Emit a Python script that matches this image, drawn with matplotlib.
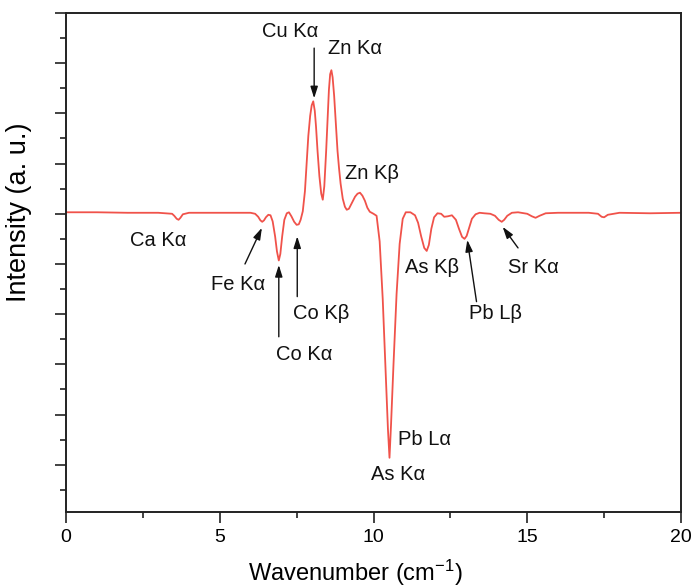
import matplotlib
matplotlib.use("Agg")
import matplotlib.pyplot as plt
from matplotlib.ticker import MultipleLocator

plt.rcParams['font.family'] = ['Liberation Sans', 'DejaVu Sans']
plt.rcParams['mathtext.fontset'] = 'custom'
plt.rcParams['mathtext.rm'] = 'Liberation Sans'
plt.rcParams['mathtext.it'] = 'Liberation Sans:italic'

# Spectrum trace (wavenumber, intensity in arbitrary units)
wavenumber = [
    0.0, 1.0, 2.0, 3.0, 3.45, 3.52, 3.6, 3.66, 3.72, 3.8, 4.0, 5.0, 6.0, 6.15,
    6.25, 6.32, 6.38, 6.44, 6.5, 6.58, 6.65, 6.72, 6.8, 6.86, 6.92, 6.97,
    7.03, 7.1, 7.18, 7.25, 7.33, 7.42, 7.5, 7.57, 7.63, 7.7, 7.77, 7.83,
    7.88, 7.94, 7.99, 8.04, 8.09, 8.13, 8.18, 8.24, 8.3, 8.35, 8.4, 8.46,
    8.51, 8.55, 8.59, 8.63, 8.67, 8.72, 8.78, 8.83, 8.88, 8.93, 9.0, 9.07,
    9.13, 9.2, 9.3, 9.4, 9.48, 9.56, 9.64, 9.72, 9.8, 9.88, 10.0, 10.1,
    10.2, 10.3, 10.4, 10.47, 10.52, 10.57, 10.65, 10.75, 10.85, 10.95,
    11.05, 11.2, 11.35, 11.45, 11.55, 11.65, 11.73, 11.8, 11.88, 11.97,
    12.08, 12.2, 12.3, 12.42, 12.55, 12.68, 12.78, 12.88, 12.96, 13.03,
    13.1, 13.2, 13.32, 13.45, 13.6, 13.8, 13.95, 14.07, 14.17, 14.25,
    14.35, 14.5, 14.7, 15.0, 15.15, 15.27, 15.4, 15.6, 16.0, 16.5, 17.0,
    17.3, 17.42, 17.5, 17.62, 18.0, 19.0, 20.0,
]
intensity = [
    0.03, 0.03, 0.02, 0.02, 0.0, -0.04, -0.10, -0.12, -0.08, -0.01, 0.02, 0.02, 0.02, 0.0,
    -0.06, -0.13, -0.16, -0.13, -0.07, -0.02, -0.03, -0.15, -0.45, -0.75, -0.93, -0.8,
    -0.45, -0.12, 0.01, 0.03, -0.05, -0.16, -0.22, -0.21, -0.12, 0.05, 0.45, 1.05,
    1.55, 1.95, 2.16, 2.24, 2.05, 1.74, 1.25, 0.75, 0.4, 0.28, 0.55, 1.25,
    1.95, 2.47, 2.78, 2.86, 2.72, 2.35, 1.75, 1.25, 0.9, 0.6, 0.3, 0.14,
    0.08, 0.1, 0.22, 0.34, 0.4, 0.42, 0.36, 0.26, 0.12, 0.04, 0.0, -0.04,
    -0.55, -1.7, -3.2, -4.3, -4.86, -4.2, -3.0, -1.6, -0.6, -0.1,
    0.03, 0.03, -0.03, -0.18, -0.45, -0.68, -0.74, -0.62, -0.3, -0.07,
    0.01, 0.0, -0.06, -0.05, -0.03, -0.12, -0.3, -0.46, -0.5, -0.44,
    -0.3, -0.1, -0.01, 0.02, 0.01, 0.0, -0.04, -0.12, -0.16, -0.12,
    -0.04, 0.02, 0.03, 0.0, -0.05, -0.08, -0.04, 0.01, 0.02, 0.02, 0.02,
    0.0, -0.06, -0.07, -0.02, 0.02, 0.01, 0.02,
]

# Line labels: text, text position (x, y), arrow tip (x, y) or None
labels = ["Cu K\u03b1", "Zn K\u03b1", "Zn K\u03b2", "Ca K\u03b1", "Fe K\u03b1",
          "Co K\u03b1", "Co K\u03b2", "As K\u03b1", "Pb L\u03b1", "As K\u03b2",
          "Pb L\u03b2", "Sr K\u03b1"]
label_xy = [(7.28, 3.63), (9.4, 3.3), (9.95, 0.8), (3.0, -0.53), (5.6, -1.4),
            (7.75, -2.8), (8.3, -1.98), (10.8, -5.2), (11.65, -4.5), (11.9, -1.08),
            (13.95, -1.98), (15.2, -1.08)]
arrow_tip = [(8.07, 2.3), None, None, None, (6.37, -0.28),
             (6.92, -1.02), (7.52, -0.45), None, None, None,
             (13.05, -0.52), (14.2, -0.26)]
arrow_tail = [(8.07, 3.3), None, None, None, (5.82, -1.0),
              (6.92, -2.45), (7.52, -1.65), None, None, None,
              (13.35, -1.75), (14.7, -0.68)]

fig = plt.figure(figsize=(6.92, 5.87), dpi=100)
ax = fig.add_axes([0.0954, 0.1278, 0.8887, 0.8501])

ax.plot(wavenumber, intensity, color="#f0524a", lw=1.3)

for text, (tx, ty), tip, tail in zip(labels, label_xy, arrow_tip, arrow_tail):
    ax.text(tx, ty, text, ha="center", va="center", fontsize=14.5, color="#111111")
    if tip is not None:
        ax.annotate("", xy=tip, xytext=tail,
                    arrowprops=dict(arrowstyle="-|>,head_length=0.7,head_width=0.22",
                                    color="#111111", lw=1.0, shrinkA=0, shrinkB=0))

ax.set_xlim(0, 20)
ax.set_ylim(-5.94, 4.0)
ax.xaxis.set_major_locator(MultipleLocator(5))
ax.xaxis.set_minor_locator(MultipleLocator(2.5))
ax.yaxis.set_major_locator(MultipleLocator(1))
ax.yaxis.set_minor_locator(MultipleLocator(0.5))
ax.tick_params(which="major", direction="out", length=8, width=1.3, color="#333333",
               labelsize=14, pad=4)
ax.tick_params(which="minor", direction="out", length=4.5, width=1.3, color="#333333")
ax.tick_params(axis="y", which="both", labelleft=False)
for s in ax.spines.values():
    s.set_linewidth(1.4)
    s.set_color("#222222")

ax.set_xlabel(r"Wavenumber (cm$^{-1}$)", fontsize=17)
ax.set_ylabel("Intensity (a. u.)", fontsize=19.5)
ax.xaxis.set_label_coords(0.47, -0.092)
ax.yaxis.set_label_coords(-0.056, 0.6)

fig.savefig("out.png", dpi=100)
